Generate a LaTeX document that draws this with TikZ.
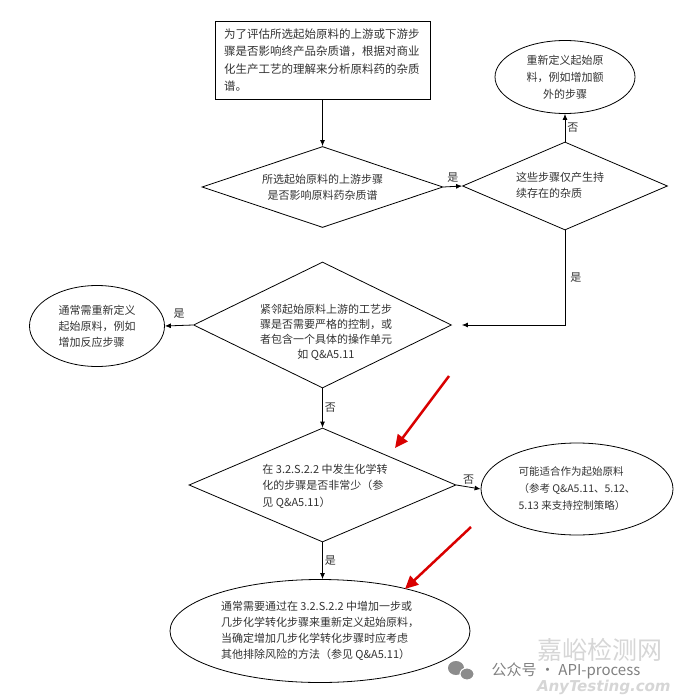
\documentclass[tikz,border=0pt]{standalone}
\usepackage{fontspec}
\setmainfont{Noto Sans CJK SC}
\newfontfamily\wmfont[FakeSlant=0.2]{DejaVu Sans}
\usetikzlibrary{shapes.geometric,arrows.meta}

\begin{document}
\begin{tikzpicture}[x=1pt,y=-1pt,>={Latex[length=6pt,width=5pt]},
  every node/.style={font=\fontsize{11}{16}\selectfont, text=black!80},
  line/.style={line width=0.8pt},
  dia/.style={draw, diamond, line width=0.8pt, inner sep=0pt},
  ell/.style={draw, ellipse, line width=0.8pt, inner sep=0pt},
  lab/.style={font=\fontsize{11}{12}\selectfont, inner sep=2pt},
  redarr/.style={draw=red!85!black, line width=2.5pt, -{Triangle[length=13pt,width=12pt]}}]
\useasboundingbox (0,0) rectangle (680,698);

\node[draw, line width=0.8pt, text width=197pt, inner xsep=9pt, inner ysep=5pt, minimum height=78pt, align=left, font=\fontsize{11.5}{17.3}\selectfont] (start) at (322.5,60) {为了评估所选起始原料的上游或下游步\\骤是否影响终产品杂质谱，根据对商业\\化生产工艺的理解来分析原料药的杂质\\谱。};

\node[dia, minimum width=241pt, minimum height=81pt] (q1) at (322.5,187) {};
\node[align=center] (q1t) at (q1) {所选起始原料的上游步骤\\是否影响原料药杂质谱};

\node[dia, minimum width=205pt, minimum height=88pt] (q2) at (565,186) {};
\node[align=left] (q2t) at (560,185) {这些步骤仅产生持\\续存在的杂质};

\node[ell, minimum width=140pt, minimum height=73pt, align=center, font=\fontsize{11}{17}\selectfont] (e1) at (565,77) {重新定义起始原\\料，例如增加额\\外的步骤};

\node[dia, minimum width=258pt, minimum height=126pt] (q3) at (322.5,325) {};
\node[align=center, font=\fontsize{11}{15}\selectfont] (q3t) at (326,332) {紧邻起始原料上游的工艺步\\骤是否需要严格的控制，或\\者包含一个具体的操作单元\\如 Q\&A5.11};

\node[ell, minimum width=135pt, minimum height=81pt, align=left] (e2) at (97,326) {通常需重新定义\\起始原料，例如\\增加反应步骤};

\node[dia, minimum width=267pt, minimum height=114pt] (q4) at (322.5,485) {};
\node[align=left, font=\fontsize{11}{16.5}\selectfont] (q4t) at (325,486) {在 3.2.S.2.2 中发生化学转\\化的步骤是否非常少（参\\见 Q\&A5.11）};

\node[ell, minimum width=192pt, minimum height=92pt, align=left, font=\fontsize{10.5}{17}\selectfont] (e3) at (577,489) {可能适合作为起始原料\\（参考 Q\&A5.11、5.12、\\5.13 来支持控制策略）};

\node[ell, minimum width=300pt, minimum height=103pt, align=left, font=\fontsize{11}{16}\selectfont] (e4) at (320,631) {通常需要通过在 3.2.S.2.2 中增加一步或\\几步化学转化步骤来重新定义起始原料，\\当确定增加几步化学转化步骤时应考虑\\其他排除风险的方法（参见 Q\&A5.11）};

\draw[line,->] (start.south) -- (start.south |- q1.north);
\draw[line,->] (q1.east) -- node[lab, above, yshift=2pt] {是} (q2.west);
\draw[line,->] (q2.north) -- node[lab, right] {否} (q2.north |- e1.south);
\draw[line,->,shorten >=10pt] (q2.south) -- node[lab, right, inner sep=5pt] {是} (q2.south |- q3.east) -- (q3.east);
\draw[line,->] (q3.west) -- node[lab, above, yshift=5pt] {是} (e2.east);
\draw[line,->] (q3.south) -- node[lab, right] {否} (q4.north);
\draw[line,->] (q4.east) -- node[lab, above] {否} (e3.west);
\draw[line,->] (q4.south) -- node[lab, right] {是} (q4.south |- e4.north);

\coordinate (r1) at (449,376);
\coordinate (r1tip) at (395,448);
\coordinate (r2) at (471,527);
\coordinate (r2tip) at (405,589);
\draw[redarr] (r1) -- (r1tip);
\draw[redarr] (r2) -- (r2tip);

\node[text=black!16, font=\fontsize{25}{25}\selectfont] (wm1) at (600,650) {嘉峪检测网};
\node[text=black!16, font=\wmfont\fontsize{15}{15}\selectfont\bfseries] (wm2) at (603,687) {AnyTesting.com};
\fill[black!45] (456,668) ellipse (8 and 7);
\fill[black!45, draw=white, line width=1pt] (467,674) ellipse (7 and 6);
\node[text=black!50, font=\fontsize{15}{15}\selectfont] (wm3) at (566,671) {公众号 · API-process};
\end{tikzpicture}
\end{document}
